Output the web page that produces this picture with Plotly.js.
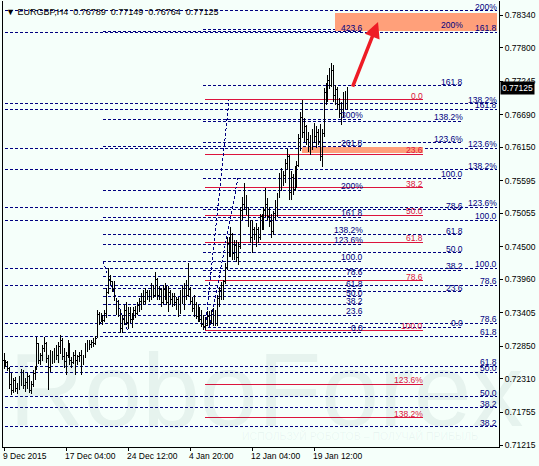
<!DOCTYPE html>
<html>
<head>
<meta charset="utf-8">
<script src="https://cdn.plot.ly/plotly-3.0.1.min.js"></script>
<style>
html,body{margin:0;padding:0;background:#F5FFFA;}
#chart{width:539px;height:466px;}
#chart svg path{shape-rendering:crispEdges;}
#chart svg .annotation-arrow-g path{shape-rendering:auto;}
</style>
</head>
<body>
<div id="chart"></div>
<script>
// ---------------- DATA ----------------
const symbolTitle = "EURGBP,H4";
const barOpen = [
.7262,.7255,.7258,.7248,.7222,.7212,.7228,.7215,.7218,.7230,
.7240,.7220,.7225,.7235,.7212,.7222,.7240,.7248,.7290,.7262,
.7270,.7282,.7290,.7265,.7250,.7272,.7262,.7278,.7270,.7285,
.7295,.7268,.7260,.7270,.7288,.7262,.7258,.7270,.7262,.7268,
.7270,.7265,.7268,.7285,.7290,.7288,.7292,.7290,.7298,.7338,
.7325,.7335,.7328,.7340,.7375,.7395,.7392,.7380,.7365,.7342,
.7340,.7315,.7330,.7345,.7325,.7340,.7330,.7335,.7345,.7340,
.7352,.7360,.7368,.7360,.7375,.7368,.7372,.7385,.7370,.7395,
.7370,.7380,.7358,.7380,.7372,.7358,.7375,.7362,.7368,.7358,
.7362,.7340,.7372,.7365,.7382,.7370,.7380,.7360,.7348,.7355,
.7335,.7345,.7330,.7322,.7318,.7320,.7335,.7325,.7340,.7322,
.7340,.7365,.7378,.7385,.7392,.7415,.7455,.7440,.7470,.7438,
.7452,.7432,.7450,.7510,.7520,.7530,.7508,.7490,.7465,.7478,
.7470,.7478,.7465,.7500,.7485,.7510,.7520,.7500,.7492,.7475,
.7505,.7520,.7532,.7565,.7555,.7568,.7588,.7600,.7540,.7565,
.7545,.7578,.7585,.7630,.7665,.7640,.7650,.7628,.7615,.7625,
.7638,.7632,.7640,.7625,.7600,.7638,.7705,.7695,.7725,.7718,
.7742,.7700,.7710,.7685,.7670,.7680,.7700,.76789];
const barHigh = [
.7274,.7262,.7260,.7250,.7240,.7232,.7234,.7225,.7236,.7248,
.7246,.7232,.7240,.7238,.7228,.7245,.7252,.7300,.7290,.7274,
.7287,.7300,.7292,.7271,.7279,.7278,.7282,.7287,.7292,.7304,
.7298,.7282,.7275,.7295,.7290,.7267,.7275,.7279,.7271,.7275,
.7279,.7271,.7290,.7295,.7295,.7296,.7298,.7302,.7345,.7342,
.7340,.7337,.7345,.7382,.7415,.7403,.7392,.7393,.7365,.7362,
.7345,.7337,.7353,.7358,.7350,.7350,.7340,.7350,.7352,.7358,
.7365,.7374,.7378,.7382,.7378,.7378,.7390,.7387,.7408,.7398,
.7385,.7382,.7387,.7390,.7385,.7385,.7378,.7374,.7374,.7367,
.7367,.7378,.7385,.7390,.7395,.7423,.7383,.7367,.7370,.7358,
.7353,.7350,.7345,.7337,.7334,.7343,.7343,.7345,.7348,.7345,
.7370,.7383,.7392,.7395,.7423,.7466,.7466,.7483,.7473,.7462,
.7462,.7458,.7516,.7532,.7556,.7535,.7516,.7494,.7494,.7483,
.7489,.7482,.7505,.7505,.7516,.7547,.7530,.7516,.7505,.7510,
.7527,.7539,.7572,.7580,.7575,.7595,.7612,.7602,.7575,.7570,
.7584,.7592,.7637,.7674,.7693,.7663,.7652,.7640,.7635,.7645,
.7655,.7650,.7645,.7653,.7645,.7713,.7722,.7735,.7746,.7755,
.7751,.7718,.7715,.7696,.7690,.7706,.7708,.77149];
const barLow = [
.7248,.7250,.7244,.7215,.7205,.7207,.7210,.7206,.7212,.7220,
.7214,.7209,.7215,.7208,.7206,.7218,.7230,.7245,.7256,.7254,
.7260,.7275,.7258,.7213,.7243,.7256,.7257,.7262,.7258,.7272,
.7262,.7249,.7237,.7265,.7254,.7249,.7256,.7237,.7254,.7259,
.7237,.7254,.7266,.7276,.7279,.7282,.7284,.7287,.7298,.7320,
.7325,.7320,.7325,.7332,.7372,.7387,.7375,.7360,.7337,.7334,
.7307,.7307,.7321,.7320,.7313,.7323,.7315,.7328,.7332,.7337,
.7342,.7345,.7353,.7355,.7362,.7358,.7362,.7365,.7367,.7362,
.7362,.7350,.7355,.7362,.7353,.7342,.7355,.7350,.7352,.7345,
.7334,.7338,.7355,.7345,.7362,.7367,.7355,.7342,.7334,.7330,
.7325,.7325,.7317,.7312,.7312,.7318,.7320,.7322,.7318,.7318,
.7318,.7350,.7362,.7362,.7388,.7412,.7433,.7433,.7428,.7428,
.7425,.7420,.7446,.7494,.7511,.7502,.7483,.7456,.7440,.7462,
.7450,.7456,.7462,.7478,.7478,.7500,.7494,.7483,.7465,.7470,
.7494,.7500,.7530,.7542,.7550,.7555,.7578,.7528,.7528,.7535,
.7542,.7548,.7582,.7608,.7630,.7624,.7619,.7607,.7602,.7610,
.7622,.7614,.7618,.7592,.7582,.7632,.7685,.7690,.7712,.7715,
.7690,.7685,.7676,.7663,.7652,.7663,.7678,.76764];
const barClose = [
.7255,.7258,.7248,.7222,.7212,.7228,.7215,.7218,.7230,.7240,
.7220,.7225,.7235,.7212,.7222,.7240,.7248,.7290,.7262,.7270,
.7282,.7290,.7265,.7250,.7272,.7262,.7278,.7270,.7285,.7295,
.7268,.7260,.7270,.7288,.7262,.7258,.7270,.7262,.7268,.7270,
.7265,.7268,.7285,.7290,.7288,.7292,.7290,.7298,.7338,.7325,
.7335,.7328,.7340,.7375,.7395,.7392,.7380,.7365,.7342,.7340,
.7315,.7330,.7345,.7325,.7340,.7330,.7335,.7345,.7340,.7352,
.7360,.7368,.7360,.7375,.7368,.7372,.7385,.7370,.7395,.7370,
.7380,.7358,.7380,.7372,.7358,.7375,.7362,.7368,.7358,.7362,
.7340,.7372,.7365,.7382,.7370,.7380,.7360,.7348,.7355,.7335,
.7345,.7330,.7322,.7318,.7320,.7335,.7325,.7340,.7322,.7340,
.7365,.7378,.7385,.7392,.7415,.7455,.7440,.7470,.7438,.7452,
.7432,.7450,.7510,.7520,.7530,.7508,.7490,.7465,.7478,.7470,
.7478,.7465,.7500,.7485,.7510,.7520,.7500,.7492,.7475,.7505,
.7520,.7532,.7565,.7555,.7568,.7588,.7600,.7540,.7565,.7545,
.7578,.7585,.7630,.7665,.7640,.7650,.7628,.7615,.7625,.7638,
.7632,.7640,.7625,.7600,.7638,.7705,.7695,.7725,.7718,.7742,
.7700,.7710,.7685,.7670,.7680,.7700,.7679,.77125];

const timeTickIndex  = [0, 32, 64, 96, 128, 160];
const timeTickLabels = ["9 Dec 2015","17 Dec 04:00","24 Dec 12:00","4 Jan 20:00","12 Jan 04:00","19 Jan 12:00"];
const priceTicks = [0.78340,0.77800,0.77245,0.76690,0.76150,0.75595,0.75055,0.74500,0.73960,0.73405,0.72850,0.72310,0.71755,0.71215];

// Fibonacci tools: anchor = [price at 0%, price at 100%]
const fibAnchorA = [0.73087, 0.74261];
const fibLevelsA = [0,23.6,38.2,50,61.8,78.6,100,123.6,138.2,161.8,200,261.8,300,423.6];
const fibLabelsA = ["0.0","23.6","38.2","50.0","61.8","78.6","100.0","123.6%","138.2%","161.8","200%","261.8","300%","423.6"];
const fibAnchorB = [0.76932, 0.73120];
const fibLevelsB = [0,23.6,38.2,50,61.8,78.6,100,123.6,138.2];
const fibLabelsB = ["0.0","23.6","38.2","50.0","61.8","78.6","100.0","123.6%","138.2%"];
const fibAnchorC = [0.73170, 0.75639];
const fibLevelsC = [0,23.6,38.2,50,61.8,78.6,100,123.6,138.2,161.8,200];
const fibLabelsC = ["0.0","23.6","38.2","50.0","61.8","78.6","100.0","123.6%","138.2%","161.8","200%"];
const fibAnchorD = [0.69906, 0.74943];
const fibLevelsD = [23.6,38.2,50,61.8,78.6,100,123.6,138.2,161.8];
const fibLabelsD = ["23.6","38.2","50.0","61.8","78.6","100.0","123.6%","138.2%","161.8"];
const fibAnchorE = [0.69889, 0.74148];
const fibLevelsE = [23.6,38.2,50,61.8,78.6,100,123.6,138.2,161.8,200];
const fibLabelsE = ["23.6","38.2","50.0","61.8","78.6","100.0","123.6%","138.2%","161.8","200%"];

// target zones (top, bottom prices)
const zoneTop    = [0.78373, 0.76153];
const zoneBottom = [0.78075, 0.76053];

const watermarkText = "RoboForex";
const watermarkTagline = "ИСПОЛЬЗУЙ РОБОТОВ – ПОЛУЧАЙ ПРИБЫЛЬ";

// ---------------- LAYOUT / STYLE ----------------
const NAVY = '#000080', RED = '#DC143C', BG = '#F5FFFA';
const FONT = 'Liberation Sans, Arial, DejaVu Sans, sans-serif';
const FS = 8.5;
const X_RANGE = [-0.52, 255.15];
const Y_RANGE = [0.71182, 0.78572];

const tools = [
  {anchor: fibAnchorA, levels: fibLevelsA, labels: fibLabelsA, from: 51,    to: 185,   color: NAVY, dash: '3px,2px'},
  {anchor: fibAnchorC, levels: fibLevelsC, labels: fibLabelsC, from: 102.6, to: 236.6, color: NAVY, dash: '3px,2px'},
  {anchor: fibAnchorD, levels: fibLevelsD, labels: fibLabelsD, from: -2,    to: 254.2, color: NAVY, dash: '3px,2px'},
  {anchor: fibAnchorE, levels: fibLevelsE, labels: fibLabelsE, from: -2,    to: 254.2, color: NAVY, dash: '3px,2px'},
  {anchor: fibAnchorB, levels: fibLevelsB, labels: fibLabelsB, from: 103.6, to: 216,   color: RED,  dash: 'solid'}
];

const shapes = [];
const annotations = [];

tools.forEach(t => {
  const p0 = t.anchor[0], p1 = t.anchor[1];
  t.levels.forEach((lv, k) => {
    const p = p0 + (p1 - p0) * lv / 100;
    shapes.push({type:'line', layer:'below', xref:'x', yref:'y', x0:t.from, x1:t.to, y0:p, y1:p,
      line:{color:t.color, width:1, dash:t.dash}});
    if (p > Y_RANGE[0] + 0.0006 && p < Y_RANGE[1]) {
      annotations.push({xref:'x', yref:'y', x:t.to, y:p, text:t.labels[k], showarrow:false,
        xanchor:'right', yanchor:'bottom', yshift:-2, xshift:1, borderpad:0,
        font:{family:FONT, size:FS, color:t.color}});
    }
  });
});

// diagonal trend lines of the fib tools
const lvl = (a, v) => a[0] + (a[1] - a[0]) * v / 100;
[[51, lvl(fibAnchorA,100), 64, lvl(fibAnchorA,0)],
 [103.6, lvl(fibAnchorB,100), 116, lvl(fibAnchorB,0)],
 [106, lvl(fibAnchorC,0), 120.6, lvl(fibAnchorC,100)]].forEach(d => {
  shapes.push({type:'line', layer:'below', xref:'x', yref:'y', x0:d[0], y0:d[1], x1:d[2], y1:d[3],
    line:{color:NAVY, width:1, dash:'3px,2px'}});
});

// target zones
[[170.6, 254.2], [153.6, 216]].forEach((xr, k) => {
  shapes.push({type:'rect', layer:'below', xref:'x', yref:'y', x0:xr[0], x1:xr[1], y0:zoneBottom[k], y1:zoneTop[k],
    fillcolor:'#FFA07A', line:{width:0}});
});

// time labels
timeTickIndex.forEach((ix, k) => {
  annotations.push({xref:'x', yref:'paper', x:ix, y:0, text:timeTickLabels[k], showarrow:false,
    xanchor:'left', yanchor:'top', xshift:-2, yshift:-3, borderpad:0, font:{family:FONT, size:FS, color:'#000'}});
});

// header
const last = barOpen.length - 1;
const fmt = v => v.toFixed(5);
annotations.push({xref:'paper', yref:'paper', x:0, y:(447-12)/446, xshift:2, xanchor:'left', yanchor:'middle',
  showarrow:false, borderpad:0,
  text:'▼ ' + symbolTitle + '\u00a0\u00a0' + [barOpen[last], barHigh[last], barLow[last], barClose[last]].map(fmt).join('\u00a0\u00a0'),
  font:{family:FONT, size:9, color:'#000'}});

// current price box
annotations.push({xref:'paper', yref:'y', x:1, y:barClose[last], xanchor:'left', yanchor:'middle', xshift:1,
  showarrow:false, text:fmt(barClose[last]), bgcolor:'#000', borderpad:1,
  font:{family:FONT, size:FS, color:'#fff'}});

// arrow
annotations.push({xref:'x', yref:'y', axref:'x', ayref:'y', x:192.8, y:0.78224, ax:179.4, ay:0.77130,
  text:'', showarrow:true, arrowhead:2, arrowsize:0.9, arrowwidth:3.5, arrowcolor:'#EE1C25'});

// watermark
annotations.push({xref:'paper', yref:'paper', x:0.53, y:(447-390)/446, xanchor:'center', yanchor:'middle',
  showarrow:false, text:watermarkText, font:{family:FONT, size:104, color:'rgba(40,80,90,0.07)'}});
annotations.push({xref:'paper', yref:'paper', x:0.72, y:(447-436)/446, xanchor:'center', yanchor:'middle',
  showarrow:false, text:watermarkTagline, font:{family:FONT, size:10.5, color:'rgba(40,80,90,0.06)'}});

const trace = {
  type:'ohlc', x: barOpen.map((_, i) => i), open:barOpen, high:barHigh, low:barLow, close:barClose,
  increasing:{line:{color:'#000', width:1}}, decreasing:{line:{color:'#000', width:1}},
  tickwidth:0.45, hoverinfo:'skip', showlegend:false
};

const layout = {
  width:539, height:466,
  margin:{l:3, r:40, t:1, b:19, pad:0},
  paper_bgcolor:BG, plot_bgcolor:BG, showlegend:false,
  xaxis:{range:X_RANGE, showgrid:false, zeroline:false, showline:true, linecolor:'#000', linewidth:1,
    tickvals:timeTickIndex, ticktext:timeTickIndex.map(()=>''), ticks:'outside', ticklen:3, tickcolor:'#000',
    rangeslider:{visible:false}, fixedrange:true},
  yaxis:{side:'right', range:Y_RANGE, showgrid:false, zeroline:false, showline:true, mirror:true,
    linecolor:'#000', linewidth:1, tickvals:priceTicks, ticktext:priceTicks.map(fmt),
    ticks:'outside', ticklen:3, tickcolor:'#000', tickfont:{family:FONT, size:FS, color:'#000'}, fixedrange:true},
  shapes:shapes, annotations:annotations
};

Plotly.newPlot('chart', [trace], layout, {staticPlot:true, displayModeBar:false});
</script>
</body>
</html>
